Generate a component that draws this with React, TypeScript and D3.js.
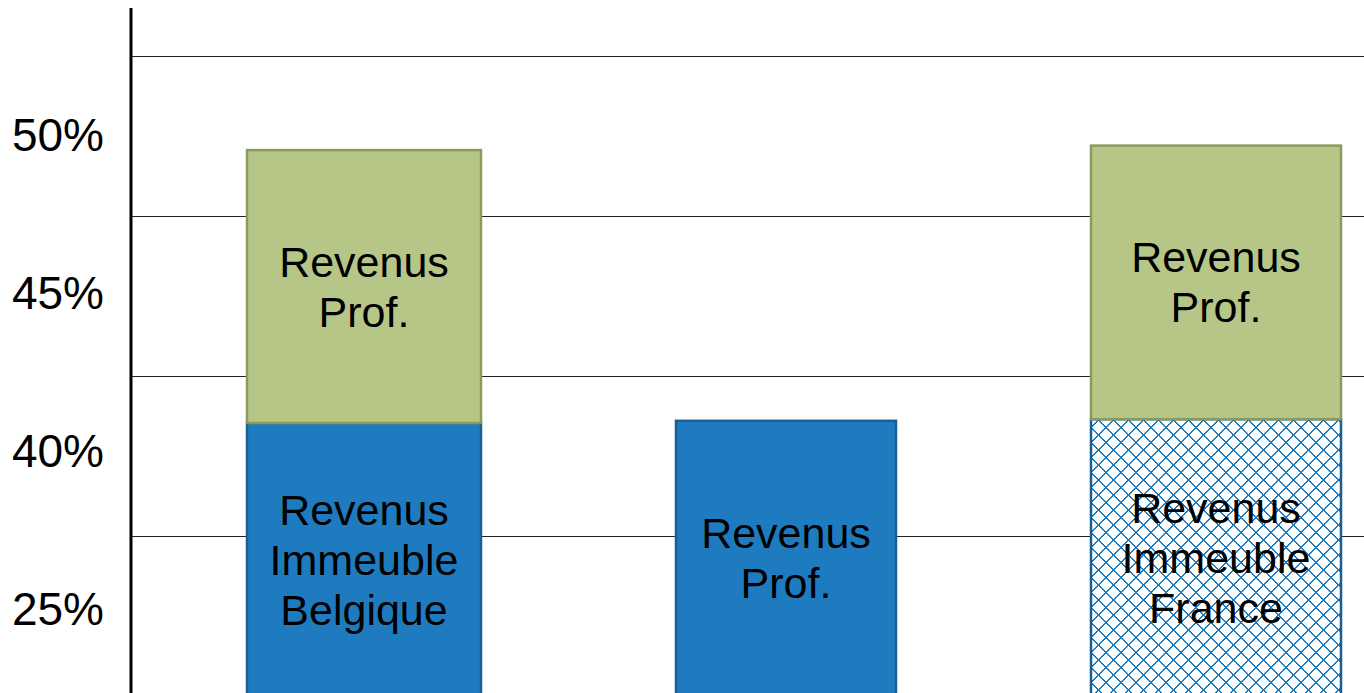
import React from "react";
import * as d3 from "d3";

const categories = ["A", "B", "C"];
// stacked segments per category: [bottom segment, top segment]
const bottomValues = [1.706, 1.72, 1.73];
const topValues = [1.706, 0, 1.71];
const bottomLabels = [["Revenus", "Immeuble", "Belgique"], ["Revenus", "Prof."], ["Revenus", "Immeuble", "France"]];
const topLabels = [["Revenus", "Prof."], [], ["Revenus", "Prof."]];
const bottomKinds = ["solid", "solid", "hatch"];
const tickLabels = ["25%", "40%", "45%", "50%"];
const gridValues = [1, 2, 3, 4];

const W = 1364;
const H = 693;
const BLUE = "#1f7bbf";
const BLUE_STROKE = "#1a5e93";
const GREEN = "#b5c686";
const GREEN_STROKE = "#8a9a5c";
const barWidthFactor = [234 / 426, 220 / 426, 250 / 426];
const barShift = [4, 0, 4];
const P = 15;

export default function App() {
  const axisX = 131;
  const y = d3.scaleLinear().domain([0, 4]).range([696, 56]);
  const yLab = d3.scaleBand<string>().domain(tickLabels).range([688, 56]);
  const x = d3.scaleBand<string>().domain(categories).range([147, 1425]);
  const lineH = 50;
  const fontFamily = "'Liberation Sans', Arial, sans-serif";

  const renderLabel = (lines: string[], cx: number, cy: number, key: string) => (
    <text key={key} x={cx} textAnchor="middle" fontSize={43} fontFamily={fontFamily} fill="#000">
      {lines.map((l, i) => (
        <tspan key={i} x={cx} y={cy + (i - (lines.length - 1) / 2) * lineH} dy="0.35em">
          {l}
        </tspan>
      ))}
    </text>
  );

  return (
    <svg width={W} height={H} style={{ position: "absolute", left: 0, top: 0, display: "block", background: "#fff" }}>
      <defs>
        <pattern id="lattice" width={P} height={P} patternUnits="userSpaceOnUse" x={1091} y={420}>
          <rect width={P} height={P} fill="#fff" />
          <path d={`M0,${P / 2} L${P / 2},0 L${P},${P / 2} L${P / 2},${P} Z`} fill="none" stroke={BLUE} strokeWidth={1.5} shapeRendering="crispEdges" />
        </pattern>
      </defs>
      {gridValues.map((g) => (
        <line key={g} x1={axisX} x2={W} y1={y(g) + 0.5} y2={y(g) + 0.5} stroke="#222" strokeWidth={1.2} />
      ))}
      {categories.map((c, i) => {
        const cx = (x(c) as number) + x.bandwidth() / 2 + barShift[i];
        const bw = x.bandwidth() * barWidthFactor[i];
        const x0 = cx - bw / 2;
        const b0 = y(0);
        const b1 = y(bottomValues[i]);
        const t1 = y(bottomValues[i] + topValues[i]);
        const els: React.ReactNode[] = [];
        els.push(
          <rect key="b" x={x0} y={b1} width={bw} height={b0 - b1}
            fill={bottomKinds[i] === "hatch" ? "url(#lattice)" : BLUE}
            stroke={BLUE_STROKE} strokeWidth={2.5} />
        );
        if (topValues[i] > 0) {
          els.push(
            <rect key="t" x={x0} y={t1} width={bw} height={b1 - t1} fill={GREEN} stroke={GREEN_STROKE} strokeWidth={2.5} />
          );
          els.push(renderLabel(topLabels[i], cx, (t1 + b1) / 2, "tl"));
        }
        els.push(renderLabel(bottomLabels[i], cx, (b1 + b0) / 2, "bl"));
        return <g key={c}>{els}</g>;
      })}
      <line x1={axisX} x2={axisX} y1={8} y2={H} stroke="#000" strokeWidth={3} />
      {tickLabels.map((t) => (
        <text key={t} x={58} y={(yLab(t) as number) + yLab.bandwidth() / 2} dy="0.35em" textAnchor="middle"
          fontSize={46} fontFamily={fontFamily} fill="#000">
          {t}
        </text>
      ))}
    </svg>
  );
}
